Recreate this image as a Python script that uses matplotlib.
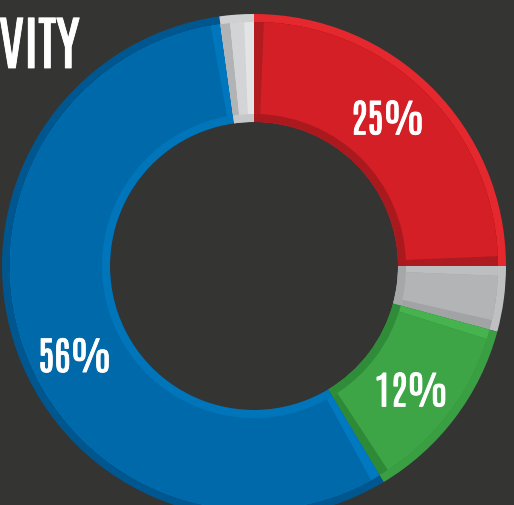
import matplotlib
matplotlib.use("Agg")
import matplotlib.pyplot as plt
import matplotlib.patheffects as pe
import numpy as np
from matplotlib.patches import Wedge

# slices, clockwise from 12 o'clock
names = ["red", "gray", "green", "blue", "lightgray"]
shares = [25.0, 4.2, 12.2, 56.4, 2.2]
labels = ["25%", "", "12%", "56%", ""]
title = "VITY"

# face, outer band, inner band, start side, end side
colors = {
    "red": ("#d41f26", "#e4282e", "#a9191e", "#b21b20", "#ad1a1f"),
    "gray": ("#b3b4b6", "#bfc0c2", "#a6a7a9", "#bdbec0", "#a2a3a5"),
    "green": ("#3da546", "#3a9e43", "#2f8c38", "#46b34f", "#2e8a37"),
    "blue": ("#0069a9", "#00578f", "#0075ba", "#0079c0", "#0077bd"),
    "lightgray": ("#d3d4d6", "#cfd0d2", "#c6c7c9", "#b2b3b5", "#e3e4e6"),
}
# label angle nudges (deg) relative to slice middle
label_nudge = [3, 0, -1, 7, 0]
font = ["Antonio", "DejaVu Sans"]
bold = [pe.Stroke(linewidth=0.6, foreground="white"), pe.Normal()]

bg = "#343432"
W, H = 514, 505
cx, cy = 254, H - 266
r_out, r_in = 252, 144
band = 8

fig = plt.figure(figsize=(W / 100, H / 100), dpi=100, facecolor=bg)
ax = fig.add_axes([0, 0, 1, 1])
ax.set_xlim(0, W)
ax.set_ylim(0, H)
ax.set_facecolor(bg)
ax.axis("off")

total = sum(shares)
start = 90.0
for name, val, lab, nudge in zip(names, shares, labels, label_nudge):
    span = 360.0 * val / total
    a_start, a_end = start, start - span  # clockwise
    face, outer, inner, s_side, e_side = colors[name]
    rmid = (r_in + r_out) / 2
    da = np.degrees(band / rmid)
    da = min(da, span / 3)

    # bevelled ring segment: outer band, inner band, two side bands, face
    ax.add_patch(Wedge((cx, cy), r_out, a_end, a_start, width=r_out - r_in,
                       facecolor=outer, edgecolor="none"))
    ax.add_patch(Wedge((cx, cy), r_out - band, a_end, a_start,
                       width=r_out - band - r_in,
                       facecolor=inner, edgecolor="none"))
    ax.add_patch(Wedge((cx, cy), r_out - band, a_end, a_start,
                       width=r_out - r_in - 2 * band,
                       facecolor=s_side, edgecolor="none"))
    ax.add_patch(Wedge((cx, cy), r_out - band, a_end, a_start - da,
                       width=r_out - r_in - 2 * band,
                       facecolor=e_side, edgecolor="none"))
    ax.add_patch(Wedge((cx, cy), r_out - band, a_end + da, a_start - da,
                       width=r_out - r_in - 2 * band,
                       facecolor=face, edgecolor="none"))

    if lab:
        mid = np.radians((a_start + a_end) / 2 + nudge)
        rl = 200
        ax.text(cx + rl * np.cos(mid), cy + rl * np.sin(mid) - 17, lab,
                ha="center", va="baseline", color="white", fontsize=28,
                family=font, path_effects=bold)
    start = a_end

ax.text(-1, H - 68, title, ha="left", va="baseline", color="white",
        fontsize=42, family=font, path_effects=bold)

fig.savefig("out.png", dpi=100, facecolor=bg)
